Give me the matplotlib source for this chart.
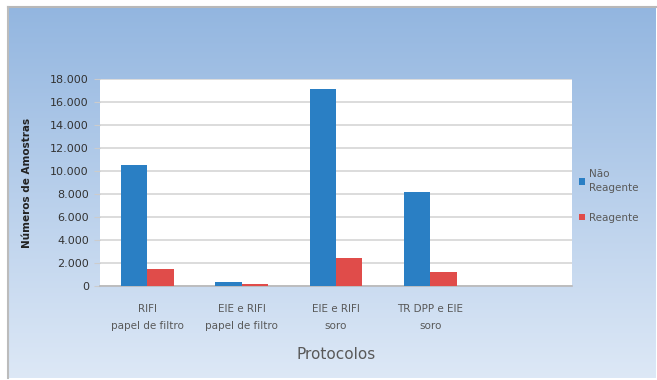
import numpy as np
import matplotlib.pyplot as plt

# Data
categorias = ["RIFI\npapel de filtro", "EIE e RIFI\npapel de filtro",
              "EIE e RIFI\nsoro", "TR DPP e EIE\nsoro", ""]
nao_reagente = [10500, 320, 17100, 8150, np.nan]
reagente = [1500, 200, 2450, 1200, np.nan]
series_nomes = ["Não\nReagente", "Reagente"]
yticks = list(range(0, 18001, 2000))
ytick_labels = ["0" if v == 0 else f"{v // 1000}.000" for v in yticks]

cor_azul = "#2a7fc4"
cor_verm = "#e04c4a"
cor_texto = "#595959"

W, H = 657, 380
fig = plt.figure(figsize=(W / 100, H / 100), dpi=100)
fig.patch.set_facecolor("white")

# Gradient panel behind the chart
bg = fig.add_axes([8 / W, 2 / H, (W - 9) / W, (H - 9) / H])
top = np.array([0.576, 0.714, 0.878])
bot = np.array([0.866, 0.910, 0.965])
t = np.linspace(0, 1, 256)[:, None, None]
grad = top * (1 - t) + bot * t
grad = np.repeat(grad, 2, axis=1)
bg.imshow(grad, aspect="auto", extent=[0, 1, 0, 1], interpolation="bilinear")
bg.set_xlim(0, 1)
bg.set_ylim(0, 1)
bg.axis("off")
bg.plot([0, 1], [1, 1], color="#b8b8b8", lw=1.5, transform=bg.transAxes, clip_on=False)
bg.plot([0, 0], [0, 1], color="#bcbcbc", lw=1.5, transform=bg.transAxes, clip_on=False)

# Main chart
ax = fig.add_axes([100 / W, 1 - 286 / H, (572 - 100) / W, (286 - 79) / H])
ax.set_facecolor("white")
x = np.arange(len(categorias))
w = 0.28
ax.bar(x - w / 2, nao_reagente, width=w, color=cor_azul, label=series_nomes[0], zorder=3)
ax.bar(x + w / 2, reagente, width=w, color=cor_verm, label=series_nomes[1], zorder=3)

ax.set_xlim(-0.5, len(categorias) - 0.5)
ax.set_ylim(0, 18000)
ax.set_yticks(yticks)
ax.set_yticklabels(ytick_labels, fontsize=8, color="#333333")
ax.set_xticks(x)
ax.set_xticklabels(categorias, fontsize=7.5, color=cor_texto, linespacing=1.9)
ax.tick_params(axis="x", length=0, pad=13)
ax.tick_params(axis="y", length=4, color="#cccccc", pad=4)
ax.grid(axis="y", color="#d6d6d6", lw=1.2, zorder=0)
for s in ["top", "right", "left"]:
    ax.spines[s].set_visible(False)
ax.spines["bottom"].set_color("#b8b8b8")
ax.spines["bottom"].set_linewidth(1.2)

ax.set_ylabel("Números de Amostras", fontsize=7.5, fontweight="bold", color="#222222", labelpad=13)
ax.set_xlabel("Protocolos", fontsize=11, color=cor_texto, labelpad=11)

leg = ax.legend(loc="upper left", bbox_to_anchor=(1.005, 0.585), frameon=False,
                fontsize=7.5, handlelength=0.6, handleheight=0.6, handletextpad=0.4,
                labelspacing=1.9, borderaxespad=0)
for txt in leg.get_texts():
    txt.set_color(cor_texto)
    txt.set_linespacing(1.5)

fig.savefig("out.png", dpi=100)
